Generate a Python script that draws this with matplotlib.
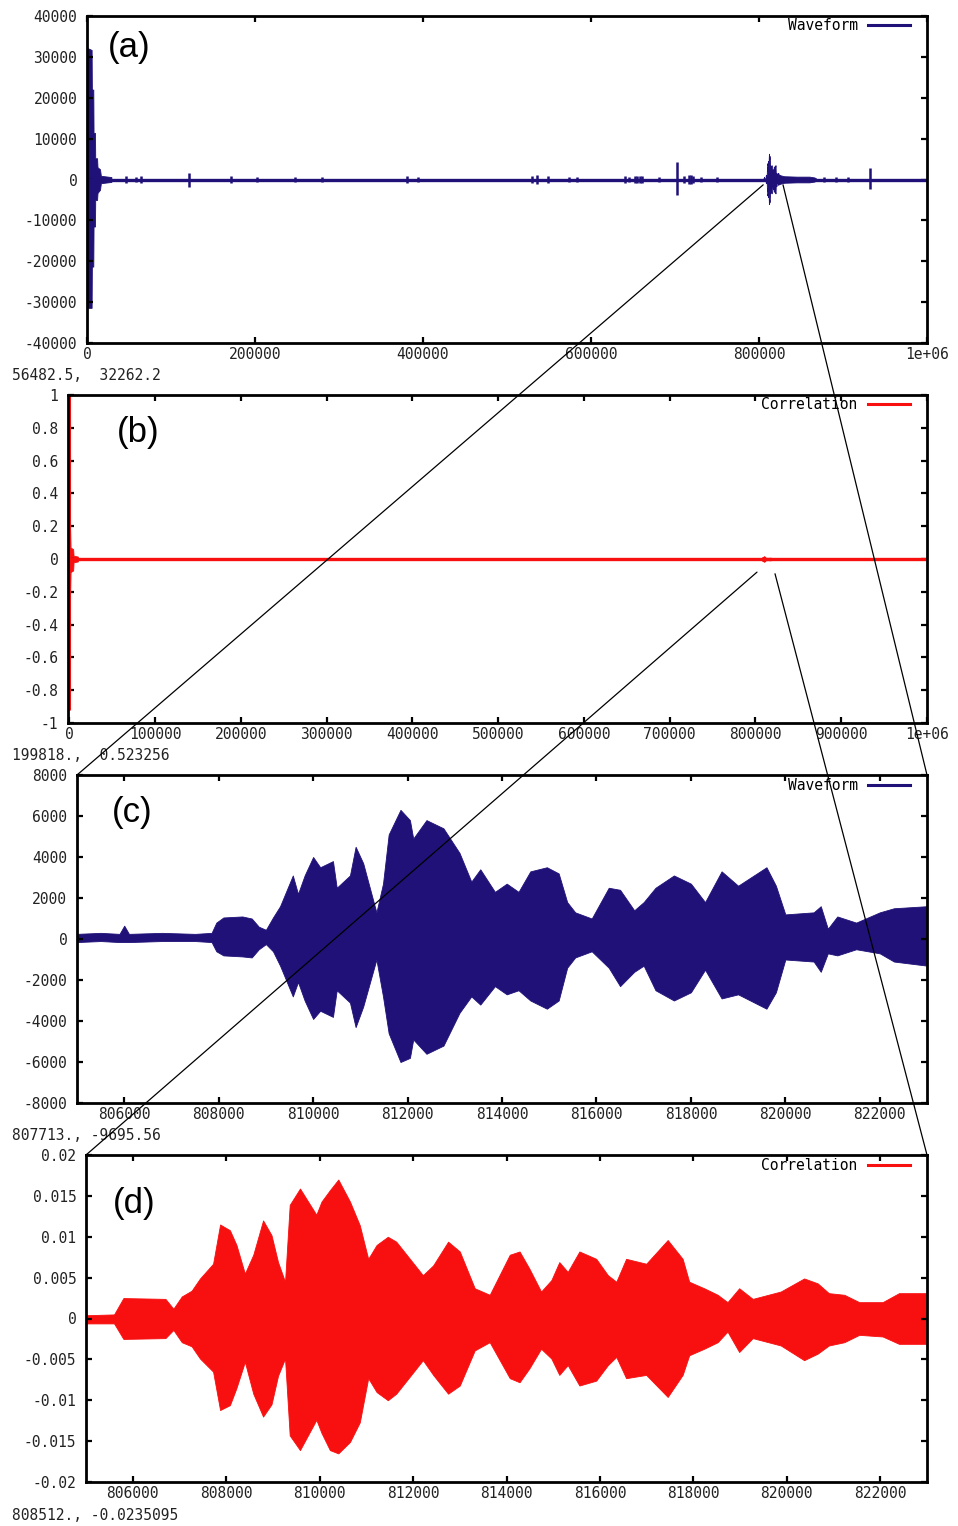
import numpy as np
import matplotlib
matplotlib.use("Agg")
import matplotlib.pyplot as plt
from matplotlib.lines import Line2D
from matplotlib.patches import ConnectionPatch

plt.rcParams['axes.unicode_minus'] = False

BLUE = '#1f1178'
RED = '#f80f0f'
MONO = 'DejaVu Sans Mono'

# ---- (a) full waveform ----
a_head_x = [0, 5500, 5800, 7500, 7800, 9500, 9800, 12000, 12500, 15500, 16500, 29000]
a_head_hi = [32200, 31700, 22000, 22000, 11400, 11400, 5200, 5200, 3000, 2500, 900, 600]
a_head_lo = [-31400, -31400, -21300, -21300, -11500, -11500, -5000, -5000, -3300, -2500, -900, -600]
a_tail_x = [823000, 826000, 830000, 845000, 860000, 866000, 868000]
a_tail_hi = [1300, 1000, 800, 700, 700, 500, 250]
a_tail_lo = [-1200, -1000, -800, -700, -700, -500, -250]
a_spike_x = [45900, 58900, 63700, 121100, 171300, 202400, 247900, 280200, 380600, 393700,
             530000, 535900, 549100, 574200, 583700, 640000, 644700, 652000, 655000, 658000,
             661000, 680600, 702100, 710500, 716400, 719000, 721200, 730700, 749800,
             877800, 892100, 906500, 931600]
a_spike_hi = [900, 700, 800, 1500, 800, 700, 500, 700, 900, 700,
              800, 1000, 800, 500, 500, 800, 700, 900, 900, 900,
              900, 700, 4300, 800, 1000, 1200, 900, 600, 600,
              700, 600, 500, 2800]
a_spike_lo = [-900, -700, -800, -1800, -800, -700, -500, -700, -900, -700,
              -800, -1000, -800, -500, -500, -800, -700, -900, -900, -900,
              -900, -700, -3800, -800, -1000, -1200, -900, -600, -600,
              -700, -600, -500, -2300]

# ---- (b) full correlation ----
b_peak_x = 0
b_peak_top = 1.0
b_peak_bottom = -0.92
b_head_x = [0, 1000, 1500, 4500, 5000, 10000]
b_head_hi = [0.18, 0.18, 0.07, 0.06, 0.02, 0.015]
b_head_lo = [-0.2, -0.2, -0.08, -0.07, -0.02, -0.015]

# ---- (c) waveform zoom, envelope ----
c_x = [805000, 805500, 805900, 806000, 806100, 806800, 807500, 807850, 807950, 808100,
       808500, 808700, 808850, 809000, 809150, 809300, 809570, 809680, 809820, 810000,
       810150, 810420, 810500, 810780, 810900, 811060, 811340, 811480, 811600, 811850,
       812050, 812120, 812400, 812760, 813100, 813350, 813540, 813850, 814100, 814350,
       814600, 814950, 815200, 815380, 815550, 815900, 816260, 816500, 816800, 817000,
       817250, 817640, 818000, 818300, 818650, 819000, 819600, 819800, 820000, 820600,
       820750, 820900, 821100, 821500, 822000, 822300, 823000]
c_hi = [250, 300, 250, 650, 250, 300, 250, 300, 800, 1050,
        1100, 1000, 600, 450, 1050, 1600, 3100, 2200, 3100, 4000,
        3500, 3800, 2500, 3100, 4500, 3700, 1300, 2700, 5100, 6300,
        5800, 4900, 5800, 5400, 4200, 2800, 3400, 2300, 2700, 2300,
        3300, 3500, 3200, 1800, 1300, 1000, 2500, 2400, 1400, 1800,
        2500, 3100, 2700, 1800, 3300, 2600, 3500, 2600, 1200, 1300,
        1600, 500, 1100, 800, 1300, 1500, 1600]
c_lo = [-150, -100, -150, -150, -150, -100, -100, -150, -600, -800,
        -850, -900, -500, -250, -600, -1300, -2800, -2100, -3000, -3900,
        -3500, -3800, -2500, -3100, -4300, -3300, -1000, -2800, -4600, -6000,
        -5800, -4900, -5600, -5200, -3600, -2800, -3200, -2300, -2700, -2500,
        -3000, -3400, -3000, -1400, -900, -600, -1400, -2300, -1600, -1300,
        -2500, -3000, -2600, -1500, -2900, -2700, -3400, -2600, -1000, -1100,
        -1600, -700, -800, -500, -700, -1100, -1300]

# ---- (d) correlation zoom, envelope ----
d_x = [805000, 805600, 805800, 806700, 806870, 807050, 807260, 807440, 807720, 807870,
       808080, 808220, 808400, 808580, 808790, 808970, 809110, 809260, 809360, 809580,
       809930, 810040, 810220, 810400, 810650, 810860, 811040, 811220, 811460, 811640,
       811960, 812210, 812430, 812750, 813000, 813320, 813640, 814070, 814280, 814490,
       814740, 814960, 815130, 815310, 815560, 815920, 816170, 816350, 816560, 816990,
       817450, 817770, 817910, 818230, 818520, 818730, 818980, 819270, 819870, 820370,
       820660, 820900, 821230, 821550, 822050, 822400, 823000]
d_hi = [0.0004, 0.0005, 0.0025, 0.0024, 0.0012, 0.0027, 0.0034, 0.0049, 0.0067, 0.0115,
        0.0108, 0.0090, 0.0055, 0.0078, 0.0120, 0.0102, 0.0069, 0.0045, 0.0139, 0.0159,
        0.0127, 0.0143, 0.0157, 0.0170, 0.0143, 0.0114, 0.0073, 0.0090, 0.0100, 0.0094,
        0.0071, 0.0053, 0.0065, 0.0094, 0.0082, 0.0037, 0.0029, 0.0078, 0.0082, 0.0061,
        0.0033, 0.0047, 0.0069, 0.0057, 0.0082, 0.0073, 0.0053, 0.0045, 0.0073, 0.0067,
        0.0096, 0.0073, 0.0045, 0.0037, 0.0029, 0.0020, 0.0037, 0.0024, 0.0033, 0.0049,
        0.0043, 0.0031, 0.0029, 0.0020, 0.0020, 0.0031, 0.0031]
d_lo = [-0.0006, -0.0006, -0.0025, -0.0024, -0.0014, -0.0029, -0.0034, -0.0049, -0.0065, -0.0112,
        -0.0106, -0.0085, -0.0053, -0.0092, -0.0120, -0.0105, -0.0070, -0.0049, -0.0143, -0.0161,
        -0.0124, -0.0140, -0.0161, -0.0165, -0.0151, -0.0127, -0.0073, -0.0090, -0.0100, -0.0092,
        -0.0069, -0.0051, -0.0069, -0.0092, -0.0082, -0.0039, -0.0029, -0.0073, -0.0078, -0.0061,
        -0.0037, -0.0049, -0.0069, -0.0057, -0.0082, -0.0076, -0.0057, -0.0047, -0.0073, -0.0069,
        -0.0096, -0.0069, -0.0045, -0.0037, -0.0029, -0.0016, -0.0041, -0.0024, -0.0033, -0.0051,
        -0.0043, -0.0033, -0.0029, -0.0020, -0.0022, -0.0031, -0.0031]

# tick labels
a_xticks = [0, 200000, 400000, 600000, 800000, 1000000]
a_xlabels = ['0', '200000', '400000', '600000', '800000', '1e+06']
a_yticks = [-40000, -30000, -20000, -10000, 0, 10000, 20000, 30000, 40000]
a_ylabels = ['-40000', '-30000', '-20000', '-10000', '0', '10000', '20000', '30000', '40000']
b_xticks = [0, 100000, 200000, 300000, 400000, 500000, 600000, 700000, 800000, 900000, 1000000]
b_xlabels = ['0', '100000', '200000', '300000', '400000', '500000', '600000', '700000',
             '800000', '900000', '1e+06']
b_yticks = [-1, -0.8, -0.6, -0.4, -0.2, 0, 0.2, 0.4, 0.6, 0.8, 1]
b_ylabels = ['-1', '-0.8', '-0.6', '-0.4', '-0.2', '0', '0.2', '0.4', '0.6', '0.8', '1']
cd_xticks = [806000, 808000, 810000, 812000, 814000, 816000, 818000, 820000, 822000]
cd_xlabels = ['806000', '808000', '810000', '812000', '814000', '816000', '818000',
              '820000', '822000']
c_yticks = [-8000, -6000, -4000, -2000, 0, 2000, 4000, 6000, 8000]
c_ylabels = ['-8000', '-6000', '-4000', '-2000', '0', '2000', '4000', '6000', '8000']
d_yticks = [-0.02, -0.015, -0.01, -0.005, 0, 0.005, 0.01, 0.015, 0.02]
d_ylabels = ['-0.02', '-0.015', '-0.01', '-0.005', '0', '0.005', '0.01', '0.015', '0.02']

readouts = ['56482.5,  32262.2', '199818.,  0.523256', '807713., -9695.56', '808512., -0.0235095']
panel_names = ['(a)', '(b)', '(c)', '(d)']
legend_names = ['Waveform', 'Correlation', 'Waveform', 'Correlation']


def style_axes(ax, xlim, ylim, xticks, xlabels, yticks, ylabels):
    ax.set_xlim(*xlim)
    ax.set_ylim(*ylim)
    ax.set_xticks(xticks)
    ax.set_xticklabels(xlabels, fontfamily=MONO, fontsize=10.5, color='#222222')
    ax.set_yticks(yticks)
    ax.set_yticklabels(ylabels, fontfamily=MONO, fontsize=10.5, color='#222222')
    ax.tick_params(direction='in', length=4.5, width=1.6, top=True, right=True)
    ax.tick_params(axis='y', pad=7)
    ax.tick_params(axis='x', pad=3)
    for sp in ax.spines.values():
        sp.set_linewidth(2.0)


fig = plt.figure(figsize=(9.58, 15.26), dpi=100)
W, H = 958.0, 1526.0
boxes = [(87, 16, 927, 343), (68, 395, 927, 723), (77, 775, 927, 1103), (86, 1155, 927, 1482)]
axes = [fig.add_axes([l / W, 1 - b / H, (r - l) / W, (b - t) / H]) for l, t, r, b in boxes]
ax_a, ax_b, ax_c, ax_d = axes

# (a)
ax_a.plot([0, 1000000], [0, 0], color=BLUE, lw=2.4, label='Waveform', solid_capstyle='butt')
ax_a.fill_between(a_head_x, a_head_lo, a_head_hi, color=BLUE, lw=0.6)
ax_a.fill_between(c_x, c_lo, c_hi, color=BLUE, lw=0.6)
ax_a.fill_between(a_tail_x, a_tail_lo, a_tail_hi, color=BLUE, lw=0.6)
ax_a.vlines(a_spike_x, a_spike_lo, a_spike_hi, color=BLUE, lw=1.8)
style_axes(ax_a, (0, 1000000), (-40000, 40000), a_xticks, a_xlabels, a_yticks, a_ylabels)

# (b)
ax_b.plot([0, 1000000], [0, 0], color=RED, lw=2.4, label='Correlation', solid_capstyle='butt')
ax_b.vlines([b_peak_x], [b_peak_bottom], [b_peak_top], color=RED, lw=2.2)
ax_b.fill_between(b_head_x, b_head_lo, b_head_hi, color=RED, lw=0.6)
ax_b.fill_between(d_x, d_lo, d_hi, color=RED, lw=0.6)
style_axes(ax_b, (-1500, 1000000), (-1, 1), b_xticks, b_xlabels, b_yticks, b_ylabels)

# (c)
ax_c.fill_between(c_x, c_lo, c_hi, color=BLUE, lw=0.6)
style_axes(ax_c, (805000, 823000), (-8000, 8000), cd_xticks, cd_xlabels, c_yticks, c_ylabels)

# (d)
ax_d.fill_between(d_x, d_lo, d_hi, color=RED, lw=0.6)
style_axes(ax_d, (805000, 823000), (-0.02, 0.02), cd_xticks, cd_xlabels, d_yticks, d_ylabels)

# legends (gnuplot style: text then sample line)
leg_anchor = [(0.9815, 0.997), (0.982, 0.997), (0.982, 0.994), (0.9816, 0.994)]
leg_colors = [BLUE, RED, BLUE, RED]
for ax, name, col, anc in zip(axes, legend_names, leg_colors, leg_anchor):
    handle = Line2D([], [], color=col, lw=2.2)
    ax.legend([handle], [name], loc='upper right', bbox_to_anchor=anc, frameon=False,
              markerfirst=False, handlelength=2.9, handletextpad=0.7, borderpad=0.1,
              borderaxespad=0, prop={'family': MONO, 'size': 10.5})

# panel letters
letter_pos = [(0.025, 0.905), (0.057, 0.887), (0.041, 0.887), (0.032, 0.853)]
for ax, name, (px, py) in zip(axes, panel_names, letter_pos):
    ax.text(px, py, name, transform=ax.transAxes, ha='left', va='center',
            fontsize=25, fontfamily='Liberation Sans')

# mouse coordinate readouts under each panel
readout_y = [376, 756, 1136, 1515]
for txt, y in zip(readouts, readout_y):
    fig.text(12 / W, 1 - y / H, txt, ha='left', va='center', fontfamily=MONO,
             fontsize=10.5, color='#222222')

# zoom guide lines
guides = [
    (ax_a, (805000, -1300), ax_c, (0, 1)),
    (ax_a, (828600, -1300), ax_c, (1, 1)),
    (ax_b, (801800, -0.08), ax_d, (0, 1)),
    (ax_b, (822800, -0.09), ax_d, (1, 1)),
]
for src, pa, dst, pb in guides:
    con = ConnectionPatch(xyA=pa, coordsA='data', axesA=src,
                          xyB=pb, coordsB='axes fraction', axesB=dst,
                          color='black', lw=0.9, zorder=10)
    fig.add_artist(con)

fig.savefig('out.png', dpi=100)
